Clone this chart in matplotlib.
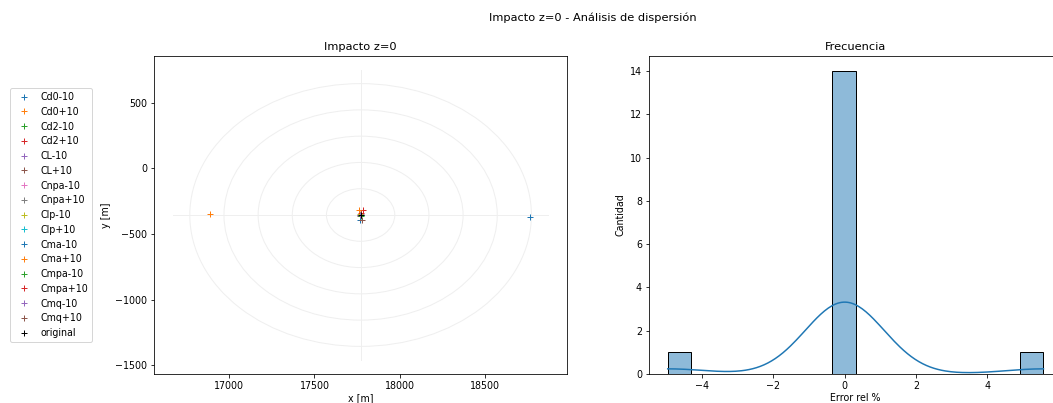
import matplotlib

matplotlib.use("Agg")
import matplotlib.pyplot as plt
import numpy as np
import seaborn as sns
from matplotlib.patches import Circle

# impact points (x, y) in metres for each perturbed case
casos = [
    "Cd0-10", "Cd0+10", "Cd2-10", "Cd2+10", "CL-10", "CL+10",
    "Cnpa-10", "Cnpa+10", "Clp-10", "Clp+10", "Cma-10", "Cma+10",
    "Cmpa-10", "Cmpa+10", "Cmq-10", "Cmq+10",
]
x_impacto = [
    18760, 16890, 17772, 17782, 17774, 17765,
    17771, 17769, 17768, 17772, 17764, 17760,
    17775, 17770, 17769, 17780,
]
y_impacto = [
    -370, -345, -352, -320, -348, -360,
    -356, -354, -350, -358, -390, -320,
    -365, -340, -357, -390,
]
x_original = 17770
y_original = -355

radios = [200, 400, 600, 800, 1000]
largo_cruz = 1100
ticks_error = [-4, -2, 0, 2, 4]

errores = [(x - x_original) / x_original * 100 for x in x_impacto]

plt.rcParams["font.size"] = 9.5

fig, (ax1, ax2) = plt.subplots(1, 2, figsize=(1053 / 72, 403 / 72), dpi=72)
fig.subplots_adjust(left=0.1462, right=0.1462 + 2 * 0.3925 + 0.0776, bottom=0.072, top=0.861, wspace=0.1976)

gris = "#efefef"
for r in radios:
    ax1.add_patch(Circle((x_original, y_original), r, fill=False, edgecolor=gris, linewidth=1))
ax1.plot([x_original - largo_cruz, x_original + largo_cruz], [y_original, y_original], color=gris, linewidth=1)
ax1.plot([x_original, x_original], [y_original - largo_cruz, y_original + largo_cruz], color=gris, linewidth=1)

colores = plt.rcParams["axes.prop_cycle"].by_key()["color"]
handles = []
for i, (nombre, x, y) in enumerate(zip(casos, x_impacto, y_impacto)):
    (h,) = ax1.plot(x, y, "+", color=colores[i % len(colores)], label=nombre)
    handles.append(h)
(h,) = ax1.plot(x_original, y_original, "+", color="black", label="original")
handles.append(h)

ax1.set_title("Impacto z=0")
ax1.set_xlabel("x [m]", labelpad=2)
ax1.set_ylabel("y [m]")
ax1.legend(handles=handles, loc="center right", bbox_to_anchor=(-0.138, 0.5))

sns.histplot(errores, bins=16, kde=True, ax=ax2)
ax2.set_xticks(ticks_error)
ax2.set_title("Frecuencia")
ax2.set_xlabel("Error rel %", labelpad=2)
ax2.set_ylabel("Cantidad")

fig.suptitle("Impacto z=0 - Análisis de dispersión", x=593 / 1053, y=0.97)
fig.savefig("out.png", dpi=72)
